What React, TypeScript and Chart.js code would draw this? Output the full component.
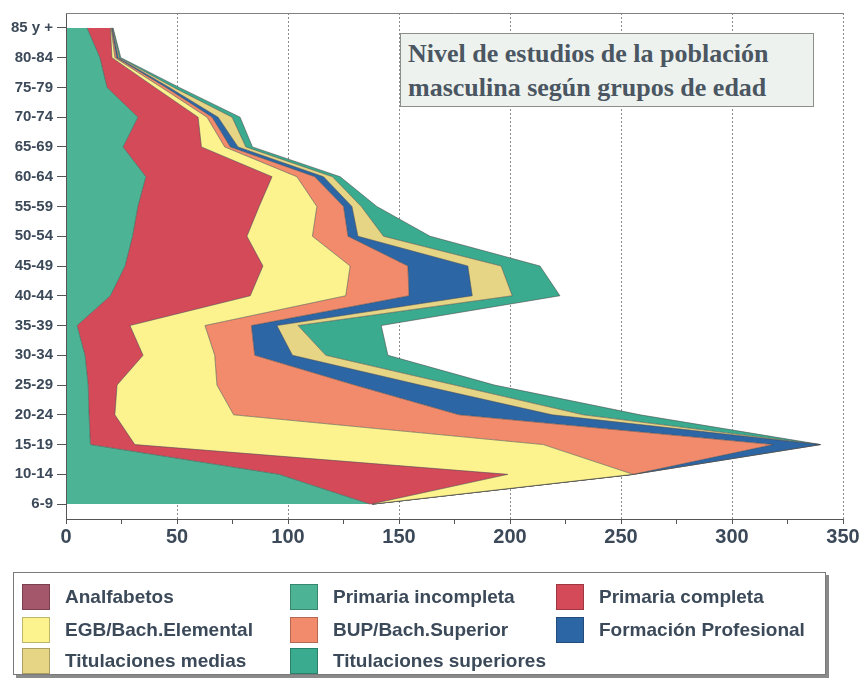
import React, { useEffect, useRef } from 'react';
import { Chart, registerables } from 'chart.js';
Chart.register(...registerables);

// Age groups, bottom (youngest) to top (oldest)
const ageGroups = ['6-9', '10-14', '15-19', '20-24', '25-29', '30-34', '35-39', '40-44', '45-49', '50-54', '55-59', '60-64', '65-69', '70-74', '75-79', '80-84', '85 y +'];

// Series values (thousands), same order as ageGroups
const analfabetos = [0.1, 0.1, 0.1, 0.1, 0.1, 0.1, 0.1, 0.1, 0.2, 0.2, 0.2, 0.3, 0.3, 0.4, 0.4, 0.4, 0.4];
const primariaIncompleta = [136.9, 95.9, 10.9, 10.3, 9.9, 8.5, 4.9, 19.9, 26.4, 29.8, 32.2, 35.7, 25.4, 32, 18.1, 14.9, 9.1];
const primariaCompleta = [0.3, 103, 20, 11.6, 13, 26.1, 23.8, 63, 62.1, 51.5, 54.6, 56.8, 35.3, 27.1, 21.5, 5.4, 10.5];
const egbBachElemental = [0.7, 56.5, 184, 53.5, 45, 32.3, 33.8, 43, 39.3, 29.5, 26, 11.2, 10.5, 4, 3, 1.3, 0.3];
const bupBachSuperior = [0, 0, 103.5, 101.5, 62, 18, 20.9, 28.5, 26, 16, 12, 8, 2.5, 2.3, 2, 0.8, 0.2];
const formacionProfesional = [0, 0, 21.1, 42, 29.5, 17, 11.5, 28.5, 27, 4.5, 3.8, 4, 3.5, 2.7, 1.5, 0.7, 0.3];
const titulacionesMedias = [0, 0, 0, 14, 15.5, 15, 9.5, 18, 15, 11.5, 4.2, 4, 3.5, 6.3, 2, 0.5, 0.2];
const titulacionesSuperiores = [0, 0, 0.4, 25.6, 18, 28, 37.5, 21.5, 17.5, 21, 7, 3.5, 3, 3.6, 2.5, 0.7, 0.2];

const xMin = 0;
const xMax = 350;
const xStep = 25;
const xLabelStep = 50;

const titleLines = ['Nivel de estudios de la población', 'masculina según grupos de edad'];

const series = [
  { label: 'Analfabetos', data: analfabetos, color: '#a4566a' },
  { label: 'Primaria incompleta', data: primariaIncompleta, color: '#4cb394' },
  { label: 'Primaria completa', data: primariaCompleta, color: '#d54a58' },
  { label: 'EGB/Bach.Elemental', data: egbBachElemental, color: '#fcf28e' },
  { label: 'BUP/Bach.Superior', data: bupBachSuperior, color: '#f28b6c' },
  { label: 'Formación Profesional', data: formacionProfesional, color: '#2c66a4' },
  { label: 'Titulaciones medias', data: titulacionesMedias, color: '#e6d584' },
  { label: 'Titulaciones superiores', data: titulacionesSuperiores, color: '#3aab8e' },
];

// legend layout (row-major, 3 columns)
const legendOrder = [
  'Analfabetos', 'Primaria incompleta', 'Primaria completa',
  'EGB/Bach.Elemental', 'BUP/Bach.Superior', 'Formación Profesional',
  'Titulaciones medias', 'Titulaciones superiores',
];

const TEXT = '#3b4959';

const framePlugin = {
  id: 'frame',
  afterDraw(chart: any) {
    const { ctx, chartArea } = chart;
    ctx.save();
    ctx.strokeStyle = '#808080';
    ctx.lineWidth = 1;
    ctx.beginPath();
    ctx.moveTo(chartArea.left, chartArea.top + 0.5);
    ctx.lineTo(chartArea.right, chartArea.top + 0.5);
    ctx.stroke();
    ctx.restore();
  },
};

export default function App() {
  const ref = useRef<HTMLCanvasElement>(null);

  useEffect(() => {
    if (!ref.current) return;
    Chart.defaults.font.family = "'Liberation Sans', Arial, sans-serif";
    const chart = new Chart(ref.current, {
      type: 'line',
      data: {
        labels: ageGroups,
        datasets: series.map((s, i) => ({
          label: s.label,
          data: s.data,
          backgroundColor: s.color,
          borderColor: 'rgba(70,70,70,0.7)',
          borderWidth: 0.8,
          pointRadius: 0,
          tension: 0,
          fill: i === 0 ? 'origin' : '-1',
        })),
      },
      options: {
        indexAxis: 'y',
        responsive: false,
        animation: false,
        layout: { padding: { top: 6, right: 22, left: 0, bottom: 0 } },
        plugins: {
          legend: { display: false },
          tooltip: { enabled: false },
          title: { display: false },
        },
        scales: {
          x: {
            type: 'linear',
            stacked: true,
            min: xMin,
            max: xMax,
            ticks: {
              stepSize: xStep,
              autoSkip: false,
              maxRotation: 0,
              padding: 1,
              color: TEXT,
              font: { size: 20, weight: 'bold' },
              callback: (v: any) => (Number(v) % xLabelStep === 0 ? String(v) : ''),
            },
            grid: {
              color: (c: any) =>
                c.tick && c.tick.value % xLabelStep === 0 && c.tick.value > 0 ? '#8c8c8c' : 'rgba(0,0,0,0)',
              tickColor: '#555',
              tickLength: 5,
              lineWidth: 1,
            },
            border: { display: true, color: '#555', width: 1, dash: [2, 2] },
            afterFit: (s: any) => {
              s.height = 686 - 519;
            },
          },
          y: {
            type: 'category',
            reverse: true,
            offset: true,
            ticks: {
              color: TEXT,
              padding: 4,
              autoSkip: false,
              font: { size: 15, weight: 'bold' },
            },
            grid: { drawOnChartArea: false, tickLength: 9, tickColor: '#555' },
            border: { display: true, color: '#555', width: 1 },
            afterFit: (s: any) => {
              s.width = 66;
            },
          },
        },
      } as any,
      plugins: [framePlugin],
    });
    return () => chart.destroy();
  }, []);

  const colX = [22, 290, 556];
  const rowY = [597, 630, 661];

  return (
    <div style={{ position: 'fixed', left: 0, top: 0, width: 865, height: 686, background: '#fff', overflow: 'hidden' }}>
      <canvas ref={ref} width={865} height={686} style={{ position: 'absolute', left: 0, top: 0, width: 865, height: 686 }} />
      <div
        style={{
          position: 'absolute',
          left: 400,
          top: 33,
          width: 414,
          height: 74,
          background: '#eef2ee',
          border: '1px solid #8a8f8a',
          fontFamily: "'Liberation Serif', 'Times New Roman', serif",
          fontWeight: 'bold',
          fontSize: 26,
          lineHeight: '34px',
          color: '#4a5661',
          padding: '3px 0 0 7px',
          boxSizing: 'border-box',
          whiteSpace: 'nowrap',
        }}
      >
        {titleLines.map((t) => (
          <div key={t}>{t}</div>
        ))}
      </div>
      <div
        style={{
          position: 'absolute',
          left: 13,
          top: 572,
          width: 813,
          height: 103,
          background: '#fff',
          border: '1px solid #7a7a7a',
          boxShadow: '3px 3px 0 #8a8a8a',
          boxSizing: 'border-box',
        }}
      />
      {legendOrder.map((name, i) => {
        const s = series.find((x) => x.label === name)!;
        const cx = colX[i % 3];
        const cy = rowY[Math.floor(i / 3)];
        return (
          <div key={name}>
            <div
              style={{
                position: 'absolute',
                left: cx,
                top: cy - 13,
                width: 28,
                height: 26,
                background: s.color,
                border: '1px solid rgba(0,0,0,0.25)',
                boxSizing: 'border-box',
              }}
            />
            <div
              style={{
                position: 'absolute',
                left: cx + 43,
                top: cy - 12,
                height: 24,
                lineHeight: '24px',
                fontFamily: "'Liberation Sans', Arial, sans-serif",
                fontWeight: 'bold',
                fontSize: 19,
                color: TEXT,
                whiteSpace: 'nowrap',
              }}
            >
              {name}
            </div>
          </div>
        );
      })}
    </div>
  );
}
